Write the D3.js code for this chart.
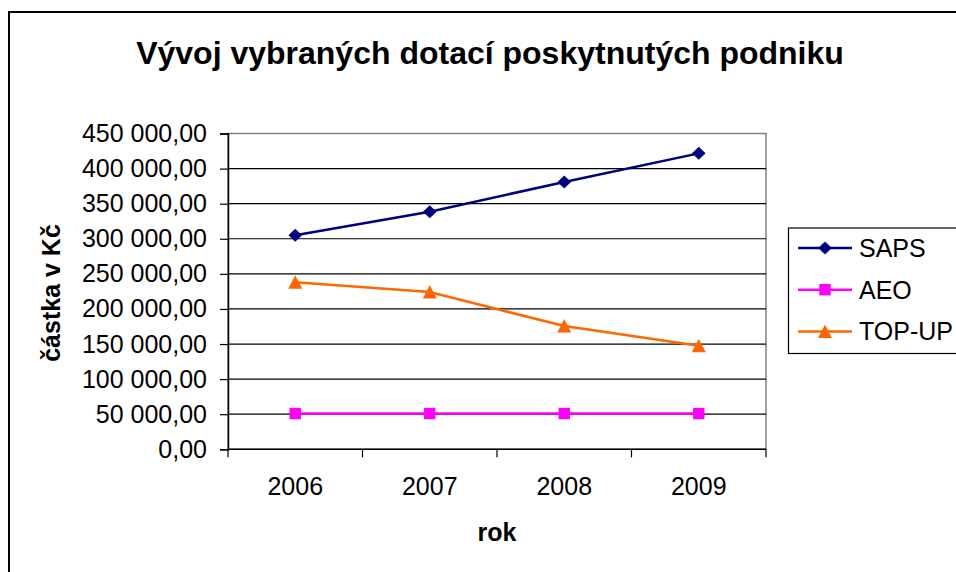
<!DOCTYPE html>
<html>
<head>
<meta charset="utf-8">
<script src="https://cdn.jsdelivr.net/npm/d3@7"></script>
<style>
  body { margin: 0; background: #fff; }
  svg { display: block; font-family: "Liberation Sans", Arial, sans-serif; }
</style>
</head>
<body>
<div id="chart"></div>
<script>
var years = ['2006', '2007', '2008', '2009'];
var saps = [305000, 338500, 381000, 421700];
var aeo = [51000, 51000, 51000, 51000];
var topUp = [238000, 224000, 175600, 147500];
var seriesNames = ['SAPS', 'AEO', 'TOP-UP'];
var yTicks = [0, 50000, 100000, 150000, 200000, 250000, 300000, 350000, 400000, 450000];

var width = 956;
var height = 572;
var plotLeft = 228;
var plotRight = 766;
var plotTop = 133.5;
var plotBottom = 449.3;
var fontSize = 25;

var czech = d3.formatLocale({ decimal: ',', thousands: ' ', grouping: [3], currency: ['', ' Kč'] });
var fmt = czech.format(',.2f');

var series = [
    { name: seriesNames[0], values: saps, color: '#000080', symbol: 'diamond' },
    { name: seriesNames[1], values: aeo, color: '#ff00ff', symbol: 'square' },
    { name: seriesNames[2], values: topUp, color: '#ff6600', symbol: 'triangle' }
];

window.onload = function() {
    var svg = d3.select('#chart').append('svg')
        .attr('width', width)
        .attr('height', height);

    // outer chart frame (runs off the right and bottom edge)
    svg.append('rect')
        .attr('x', 9)
        .attr('y', 12)
        .attr('width', width + 20)
        .attr('height', height + 20)
        .attr('fill', '#fff')
        .attr('stroke', '#000')
        .attr('stroke-width', 2);

    var x = d3.scaleBand().domain(years).range([plotLeft, plotRight]).padding(0);
    var y = d3.scaleLinear().domain([0, 450000]).range([plotBottom, plotTop]);

    // plot area border (grey)
    svg.append('rect')
        .attr('x', plotLeft)
        .attr('y', plotTop)
        .attr('width', plotRight - plotLeft)
        .attr('height', plotBottom - plotTop)
        .attr('fill', '#fff')
        .attr('stroke', '#808080')
        .attr('stroke-width', 1.5);

    // gridlines
    svg.append('g').selectAll('line')
        .data(yTicks.slice(1, -1))
        .enter().append('line')
        .attr('x1', plotLeft)
        .attr('x2', plotRight)
        .attr('y1', function(d) { return y(d); })
        .attr('y2', function(d) { return y(d); })
        .attr('stroke', '#000')
        .attr('stroke-width', 1.2);

    // y axis
    var yAxis = d3.axisLeft(y).tickValues(yTicks).tickFormat(fmt).tickSize(8).tickPadding(13);
    var gy = svg.append('g').attr('transform', 'translate(' + plotLeft + ',0)').call(yAxis);
    gy.select('.domain').attr('stroke', '#000').attr('stroke-width', 1.5);
    gy.selectAll('.tick line').attr('stroke', '#000').attr('stroke-width', 1.2);
    gy.selectAll('.tick text')
        .attr('font-size', fontSize)
        .attr('font-family', '"Liberation Sans", Arial, sans-serif')
        .attr('fill', '#000');

    // x axis: ticks at category boundaries, labels centred
    var gx = svg.append('g').attr('transform', 'translate(0,' + plotBottom + ')');
    gx.append('line')
        .attr('x1', plotLeft).attr('x2', plotRight)
        .attr('y1', 0).attr('y2', 0)
        .attr('stroke', '#000').attr('stroke-width', 1.5);
    var bounds = years.map(function(d) { return x(d); }).concat([x.range()[1]]);
    gx.selectAll('line.tk')
        .data(bounds)
        .enter().append('line')
        .attr('class', 'tk')
        .attr('x1', function(d) { return d; })
        .attr('x2', function(d) { return d; })
        .attr('y1', 0).attr('y2', 8)
        .attr('stroke', '#000').attr('stroke-width', 1.2);
    gx.selectAll('text')
        .data(years)
        .enter().append('text')
        .attr('x', function(d) { return x(d) + x.bandwidth() / 2; })
        .attr('y', 46)
        .attr('text-anchor', 'middle')
        .attr('font-size', fontSize)
        .text(function(d) { return d; });

    var line = d3.line()
        .x(function(d, i) { return x(years[i]) + x.bandwidth() / 2; })
        .y(function(d) { return y(d); });

    function symbolPath(kind) {
        if (kind === 'diamond') {
            return 'M0,-6.5L6.8,0L0,6.5L-6.8,0Z';
        } else if (kind === 'square') {
            return d3.symbol(d3.symbolSquare, 130)();
        }
        return 'M0,-7L7,6.5L-7,6.5Z';
    }

    series.forEach(function(s) {
        svg.append('path')
            .datum(s.values)
            .attr('d', line)
            .attr('fill', 'none')
            .attr('stroke', s.color)
            .attr('stroke-width', 2.5);
        svg.append('g').selectAll('path')
            .data(s.values)
            .enter().append('path')
            .attr('transform', function(d, i) {
                return 'translate(' + (x(years[i]) + x.bandwidth() / 2) + ',' + y(d) + ')';
            })
            .attr('d', symbolPath(s.symbol))
            .attr('fill', s.color);
    });

    // title
    svg.append('text')
        .attr('x', 490)
        .attr('y', 64)
        .attr('text-anchor', 'middle')
        .attr('font-size', 32)
        .attr('font-weight', 'bold')
        .text('Vývoj vybraných dotací poskytnutých podniku');

    // axis titles
    svg.append('text')
        .attr('transform', 'translate(60,293) rotate(-90)')
        .attr('text-anchor', 'middle')
        .attr('font-size', fontSize)
        .attr('font-weight', 'bold')
        .text('částka v Kč');

    svg.append('text')
        .attr('x', 497)
        .attr('y', 541)
        .attr('text-anchor', 'middle')
        .attr('font-size', fontSize)
        .attr('font-weight', 'bold')
        .text('rok');

    // legend
    var legend = svg.append('g');
    legend.append('rect')
        .attr('x', 788.5)
        .attr('y', 228)
        .attr('width', 200)
        .attr('height', 125.5)
        .attr('fill', '#fff')
        .attr('stroke', '#000')
        .attr('stroke-width', 1.2);

    var item = legend.selectAll('g.item')
        .data(series)
        .enter().append('g')
        .attr('class', 'item')
        .attr('transform', function(d, i) { return 'translate(0,' + (248 + i * 41.7) + ')'; });
    item.append('line')
        .attr('x1', 798).attr('x2', 852)
        .attr('y1', 0).attr('y2', 0)
        .attr('stroke', function(d) { return d.color; })
        .attr('stroke-width', 2.5);
    item.append('path')
        .attr('transform', 'translate(825,0)')
        .attr('d', function(d) { return symbolPath(d.symbol); })
        .attr('fill', function(d) { return d.color; });
    item.append('text')
        .attr('x', 859)
        .attr('y', 9)
        .attr('font-size', fontSize)
        .text(function(d) { return d.name; });
};
</script>
</body>
</html>
